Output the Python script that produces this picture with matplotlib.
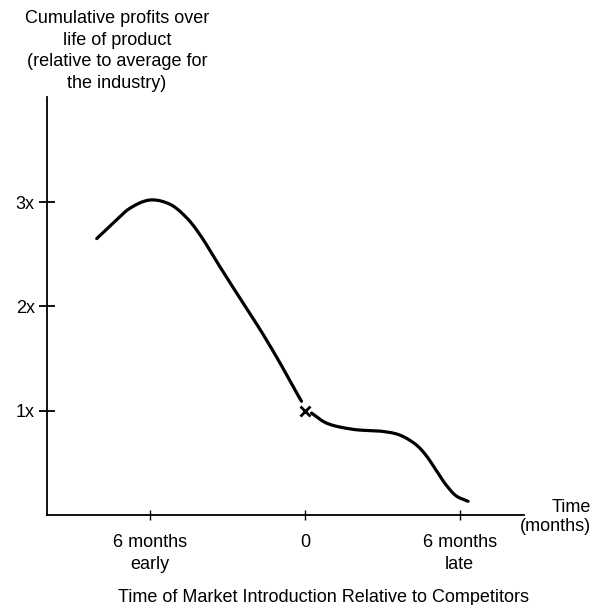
import numpy as np
import matplotlib
matplotlib.use("Agg")
import matplotlib.pyplot as plt

plt.rcParams['font.family'] = ['Liberation Sans', 'DejaVu Sans']

# Data (months relative to competitors, profits relative to industry average)
early_x = [-8.06, -7.42, -6.78, -6.0, -5.23, -4.58, -4.07, -3.29, -2.52, -1.74, -0.97, -0.32, -0.13]
early_y = [2.65, 2.80, 2.94, 3.02, 2.98, 2.85, 2.69, 2.38, 2.08, 1.78, 1.46, 1.17, 1.09]
late_x = [0.26, 0.84, 1.87, 3.03, 3.68, 4.32, 4.71, 5.10, 5.49, 5.87, 6.32]
late_y = [0.976, 0.88, 0.82, 0.80, 0.765, 0.67, 0.565, 0.42, 0.28, 0.18, 0.13]
marker_x = [0.0]
marker_y = [1.0]
ytick_vals = [1, 2, 3]
ytick_labels = ['1x', '2x', '3x']
xtick_vals = [-6, 0, 6]
xtick_labels = ['6 months\nearly', '0', '6 months\nlate']


def smooth(xs, ys, sx=25.83, sy=104.2, n=24, alpha=0.5):
    """Centripetal Catmull-Rom through the given points (drawing only)."""
    P = np.column_stack([np.asarray(xs, float) * sx, np.asarray(ys, float) * sy])
    P = np.vstack([2 * P[0] - P[1], P, 2 * P[-1] - P[-2]])
    out = []
    for i in range(1, len(P) - 2):
        p0, p1, p2, p3 = P[i - 1], P[i], P[i + 1], P[i + 2]
        t0 = 0.0
        t1 = t0 + np.linalg.norm(p1 - p0) ** alpha
        t2 = t1 + np.linalg.norm(p2 - p1) ** alpha
        t3 = t2 + np.linalg.norm(p3 - p2) ** alpha
        t = np.linspace(t1, t2, n, endpoint=False)[:, None]
        a1 = (t1 - t) / (t1 - t0) * p0 + (t - t0) / (t1 - t0) * p1
        a2 = (t2 - t) / (t2 - t1) * p1 + (t - t1) / (t2 - t1) * p2
        a3 = (t3 - t) / (t3 - t2) * p2 + (t - t2) / (t3 - t2) * p3
        b1 = (t2 - t) / (t2 - t0) * a1 + (t - t0) / (t2 - t0) * a2
        b2 = (t3 - t) / (t3 - t1) * a2 + (t - t1) / (t3 - t1) * a3
        c = (t2 - t) / (t2 - t1) * b1 + (t - t1) / (t2 - t1) * b2
        out.append(c)
    out.append(P[-2][None, :])
    out = np.vstack(out)
    return out[:, 0] / sx, out[:, 1] / sy


fig = plt.figure(figsize=(5.98, 6.05), dpi=100)
ax = fig.add_axes([0.078, 0.149, 0.798, 0.691])

for xs, ys in [(early_x, early_y), (late_x, late_y)]:
    cx, cy = smooth(xs, ys)
    ax.plot(cx, cy, color='black', lw=2.3, solid_capstyle='round')

ax.plot(marker_x, marker_y, marker='x', color='black', ms=7, mew=2, ls='none')

ax.set_xlim(-10.0, 8.48)
ax.set_ylim(0, 4.01)
ax.spines['top'].set_visible(False)
ax.spines['right'].set_visible(False)
for s in ['left', 'bottom']:
    ax.spines[s].set_linewidth(1.3)

ax.set_yticks(ytick_vals)
ax.set_yticklabels(ytick_labels, fontsize=13)
ax.set_xticks(xtick_vals)
ax.set_xticklabels(xtick_labels, fontsize=13, linespacing=1.45)
ax.tick_params(axis='y', direction='inout', length=11, width=1.3, pad=3)
ax.tick_params(axis='x', direction='inout', length=7, width=1.0, pad=10)

fig.text(117 / 598, 1 - 51 / 605,
         'Cumulative profits over\nlife of product\n(relative to average for\nthe industry)',
         ha='center', va='center', fontsize=13, linespacing=1.36)
fig.text(591 / 598, 1 - 517 / 605, 'Time\n(months)', ha='right', va='center',
         multialignment='right', fontsize=13, linespacing=1.15)
fig.text(323 / 598, 1 - 597 / 605, 'Time of Market Introduction Relative to Competitors',
         ha='center', va='center', fontsize=13)

fig.savefig('out.png', dpi=100)
